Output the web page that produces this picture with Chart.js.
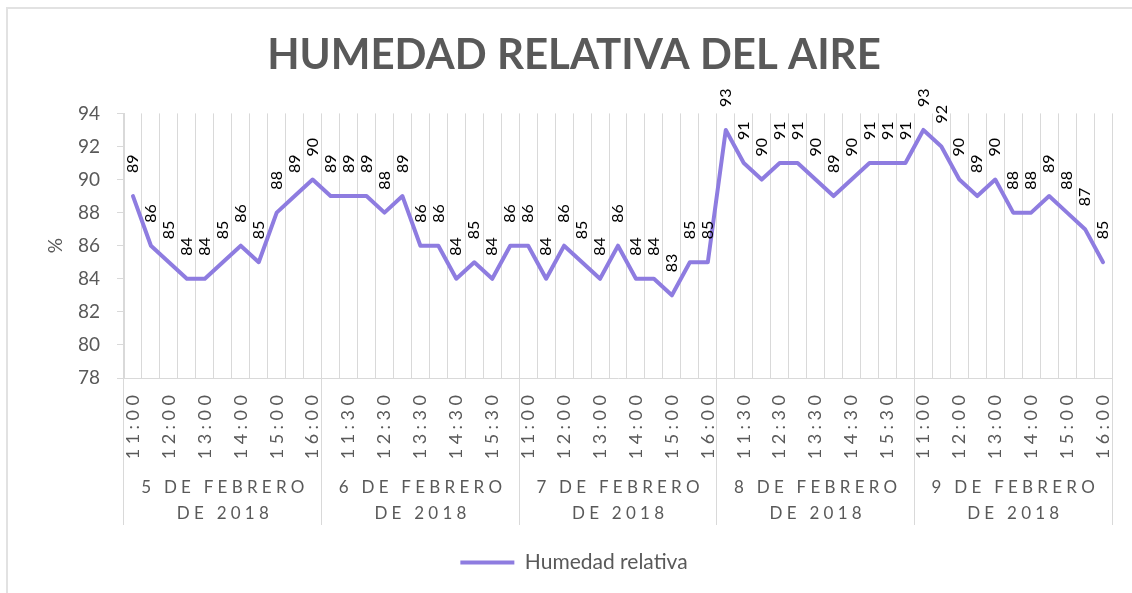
<!DOCTYPE html>
<html lang="es">
<head>
  <meta charset="UTF-8">
  <title>Humedad relativa del aire</title>
  <script src="https://cdn.jsdelivr.net/npm/chart.js"></script>
  <style>
    body { margin: 0; background: #fff; }
    #marco { position: absolute; left: 6px; top: 7px; width: 1140px; height: 600px; border: 2px solid #e2e2e2; }
    #grafico { position: absolute; left: 0; top: 0; }
  </style>
</head>
<body>
  <div id="marco"></div>
  <canvas id="grafico" width="1132" height="593"></canvas>

  <script>
    // Días (grupo del eje X)
    const dias = [
      ['5 DE FEBRERO', 'DE 2018'],
      ['6 DE FEBRERO', 'DE 2018'],
      ['7 DE FEBRERO', 'DE 2018'],
      ['8 DE FEBRERO', 'DE 2018'],
      ['9 DE FEBRERO', 'DE 2018']
    ];

    // Horas medidas cada día
    const horasDia = ['11:00', '11:30', '12:00', '12:30', '13:00', '13:30', '14:00', '14:30', '15:00', '15:30', '16:00'];

    // Humedad relativa (%)
    const humedad = [
      89, 86, 85, 84, 84, 85, 86, 85, 88, 89, 90,
      89, 89, 89, 88, 89, 86, 86, 84, 85, 84, 86,
      86, 84, 86, 85, 84, 86, 84, 84, 83, 85, 85,
      93, 91, 90, 91, 91, 90, 89, 90, 91, 91, 91,
      93, 92, 90, 89, 90, 88, 88, 89, 88, 87, 85
    ];

    const ticksY = { min: 78, max: 94, paso: 2 };

    const gris = '#595959';
    const linea = '#d9d9d9';
    const morado = '#8e7ce0';

    const horas = dias.flatMap(() => horasDia);
    const porDia = horasDia.length;

    // separa letras como en Excel
    const spaced = (s, sep) => s.split('').join(sep);
    const sep = '\u2009\u2009';

    Chart.defaults.font.family = 'Lato';

    // etiquetas de valores, giradas
    const etiquetasValor = {
      id: 'etiquetasValor',
      afterDatasetsDraw(chart) {
        const ctx = chart.ctx;
        const meta = chart.getDatasetMeta(0);
        ctx.save();
        ctx.font = '16px Lato';
        ctx.fillStyle = '#000';
        ctx.textAlign = 'left';
        ctx.textBaseline = 'middle';
        meta.data.forEach((pt, i) => {
          ctx.save();
          ctx.translate(pt.x, pt.y - 23);
          ctx.rotate(-Math.PI / 2);
          ctx.fillText(String(humedad[i]), 0, 0);
          ctx.restore();
        });
        ctx.restore();
      }
    };

    const ctx = document.getElementById('grafico').getContext('2d');
    new Chart(ctx, {
      type: 'line',
      data: {
        labels: horas,
        datasets: [{
          label: 'Humedad relativa',
          data: humedad,
          borderColor: morado,
          backgroundColor: morado,
          borderWidth: 4,
          borderJoinStyle: 'round',
          borderCapStyle: 'round',
          pointRadius: 0,
          tension: 0
        }]
      },
      options: {
        responsive: false,
        animation: false,
        layout: { padding: { left: 36, right: 20, top: 0, bottom: 10 } },
        plugins: {
          title: {
            display: true,
            text: 'HUMEDAD RELATIVA DEL AIRE',
            color: gris,
            font: { size: 42, weight: 'bold' },
            padding: { top: 30, bottom: 33 }
          },
          legend: {
            position: 'bottom',
            labels: {
              color: gris,
              font: { size: 21 },
              usePointStyle: true,
              pointStyle: 'line',
              pointStyleWidth: 54,
              padding: 22
            }
          },
          tooltip: { enabled: false }
        },
        scales: {
          x: {
            type: 'category',
            offset: true,
            grid: {
              offset: true,
              color: linea,
              drawTicks: true,
              tickLength: 147,
              tickColor: c => (c.index === undefined || c.index % porDia === 0) ? linea : 'rgba(0,0,0,0)'
            },
            border: { color: linea },
            ticks: {
              autoSkip: false,
              minRotation: 90,
              maxRotation: 90,
              padding: -130,
              color: gris,
              font: { size: 18 },
              callback: function (value, index) {
                return index % 2 === 0 ? spaced(this.getLabelForValue(value), sep) : '';
              }
            },
            afterFit: s => { s.height = 82; }
          },
          dia: {
            type: 'category',
            position: 'bottom',
            labels: dias.map(d => d.map(t => spaced(t, sep))),
            offset: true,
            grid: { display: false, drawTicks: false },
            border: { display: false },
            ticks: {
              autoSkip: false,
              minRotation: 0,
              maxRotation: 0,
              padding: 14,
              color: gris,
              font: { size: 17, lineHeight: 1.55 }
            },
            afterFit: s => { s.height = 70; }
          },
          y: {
            min: ticksY.min,
            max: ticksY.max,
            ticks: { stepSize: ticksY.paso, color: gris, font: { size: 19 }, padding: 17 },
            grid: { drawOnChartArea: false, drawTicks: true, tickLength: 7, color: linea },
            border: { color: linea },
            title: {
              display: true,
              text: '%',
              color: gris,
              font: { size: 19 },
              padding: { top: 8, bottom: 0 }
            },
            afterFit: s => { s.width = 88; }
          }
        }
      },
      plugins: [etiquetasValor]
    });
  </script>
</body>
</html>
